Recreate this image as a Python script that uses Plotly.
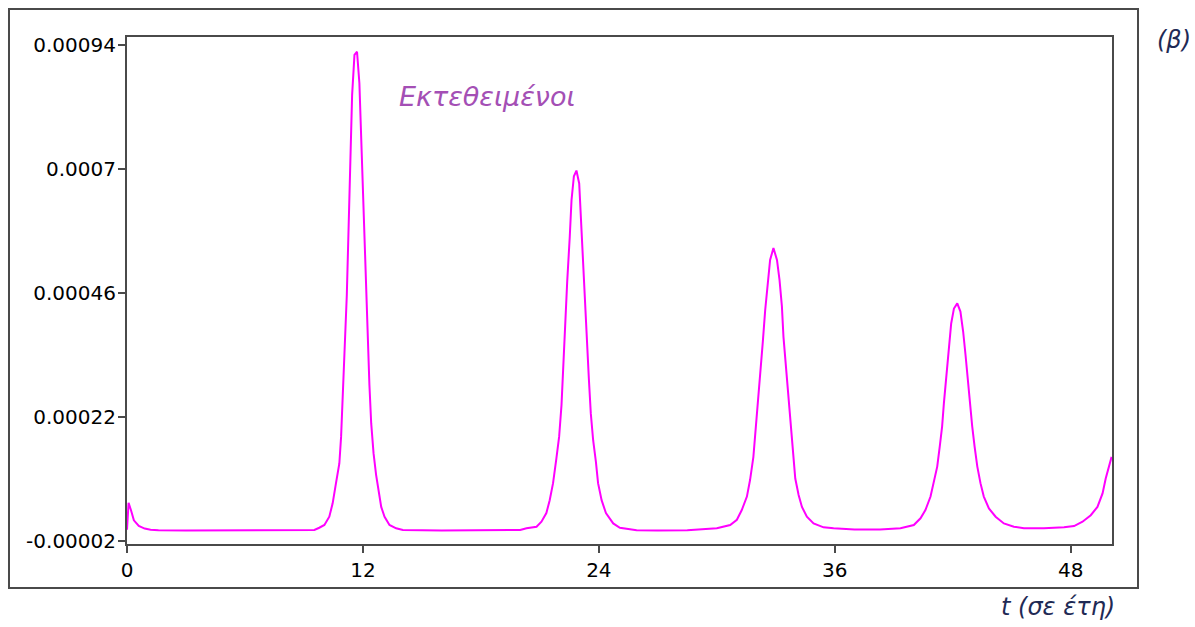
import plotly.graph_objects as go

# Εκτεθειμένοι (exposed) vs time
t_years = [0.0, 0.08, 0.2, 0.35, 0.6, 0.9, 1.2, 1.6, 3.0, 6.0, 9.0,
           9.53, 9.78, 10.04, 10.29, 10.46, 10.63, 10.80, 10.89, 10.97, 11.06,
           11.18, 11.28, 11.36, 11.45, 11.57, 11.70, 11.82, 11.91, 12.03, 12.13,
           12.25, 12.33, 12.42, 12.54, 12.67, 12.81, 12.93, 13.10, 13.35, 13.69,
           14.03, 16.0, 18.0, 20.0,
           20.32, 20.83, 21.08, 21.33, 21.50, 21.67, 21.84, 21.98, 22.10, 22.18,
           22.27, 22.39, 22.52, 22.61, 22.73, 22.86, 23.00, 23.07, 23.17, 23.29,
           23.37, 23.49, 23.59, 23.71, 23.85, 23.96, 24.14, 24.36, 24.73, 25.07,
           25.58, 25.92, 27.0, 28.5, 30.0,
           30.68, 31.02, 31.27, 31.53, 31.69, 31.86, 31.98, 32.09, 32.20, 32.34,
           32.46, 32.58, 32.71, 32.88, 33.06, 33.19, 33.31, 33.39, 33.51, 33.65,
           33.77, 33.87, 33.99, 34.16, 34.33, 34.58, 34.92, 35.43, 35.94, 37.0,
           38.3, 39.34,
           40.02, 40.36, 40.61, 40.87, 41.04, 41.21, 41.34, 41.46, 41.55, 41.67,
           41.80, 41.92, 42.06, 42.23, 42.39, 42.53, 42.65, 42.77, 42.87, 42.99,
           43.11, 43.25, 43.41, 43.58, 43.84, 44.18, 44.60, 45.11, 45.62, 46.64,
           47.66, 48.17, 48.60, 49.02, 49.36, 49.62, 49.78, 49.95, 50.08]

exposed = [0.000002, 0.000054, 0.000040, 0.000020, 0.000009, 0.000004, 0.0000018, 0.0000008, 0.0000004, 0.0000003, 0.0000003,
           0.0000013, 0.0000057, 0.000011, 0.000027, 0.000053, 0.000092, 0.000130, 0.000182, 0.000247, 0.000343,
           0.000456, 0.000595, 0.000727, 0.000843, 0.000921, 0.000927, 0.000866, 0.000756, 0.000627, 0.000495,
           0.000379, 0.000282, 0.000208, 0.000150, 0.000108, 0.000075, 0.000046, 0.000027, 0.000011, 0.0000046,
           0.0000013, 0.0000005, 0.0000005, 0.0000012,
           0.0000046, 0.0000077, 0.0000174, 0.000034, 0.000059, 0.000092, 0.000140, 0.000182, 0.000243, 0.000311,
           0.000395, 0.000482, 0.000569, 0.000640, 0.000686, 0.000697, 0.000672, 0.000617, 0.000543, 0.000456,
           0.000369, 0.000295, 0.000227, 0.000175, 0.000133, 0.000092, 0.000059, 0.000034, 0.000014, 0.0000057,
           0.0000026, 0.0000007, 0.0000004, 0.0000006, 0.0000046,
           0.000011, 0.000021, 0.000040, 0.000066, 0.000098, 0.000143, 0.000195, 0.000247, 0.000305, 0.000366,
           0.000427, 0.000479, 0.000524, 0.000547, 0.000524, 0.000485, 0.000434, 0.000375, 0.000317, 0.000253,
           0.000195, 0.000143, 0.000101, 0.000069, 0.000046, 0.000027, 0.000014, 0.0000065, 0.0000046, 0.0000025,
           0.0000025, 0.0000046,
           0.000011, 0.000024, 0.000040, 0.000066, 0.000092, 0.000124, 0.000163, 0.000202, 0.000247, 0.000298,
           0.000346, 0.000401, 0.000430, 0.000440, 0.000424, 0.000385, 0.000340, 0.000292, 0.000243, 0.000202,
           0.000163, 0.000124, 0.000092, 0.000066, 0.000043, 0.000027, 0.000014, 0.0000077, 0.0000046, 0.0000046,
           0.0000065, 0.0000090, 0.0000174, 0.000030, 0.000046, 0.000072, 0.000101, 0.000127, 0.000143]

x_ticks = [0, 12, 24, 36, 48]
y_ticks = [-0.00002, 0.00022, 0.00046, 0.0007, 0.00094]
y_tick_labels = ["-0.00002", "0.00022", "0.00046", "0.0007", "0.00094"]

AXIS = "#4a4a4a"
NAVY = "#1f2a55"

fig = go.Figure()
fig.add_trace(go.Scatter(
    x=t_years, y=exposed, mode="lines",
    line=dict(color="#ff00ff", width=2),
    showlegend=False, hoverinfo="skip",
))

fig.update_layout(
    width=1195, height=627,
    paper_bgcolor="white", plot_bgcolor="white",
    margin=dict(l=127, r=83, t=37, b=83),
    font=dict(family="DejaVu Sans", size=20, color="black"),
    xaxis=dict(
        range=[0, 50.1], tickvals=x_ticks, ticktext=[str(v) for v in x_ticks],
        showgrid=False, zeroline=False,
        showline=True, linecolor=AXIS, linewidth=2, mirror=True,
        ticks="outside", ticklen=7, tickcolor=AXIS, tickwidth=2,
    ),
    yaxis=dict(
        range=[-0.0000258, 0.0009555], tickvals=y_ticks, ticktext=y_tick_labels,
        showgrid=False, zeroline=False,
        showline=True, linecolor=AXIS, linewidth=2, mirror=True,
        ticks="outside", ticklen=7, tickcolor=AXIS, tickwidth=2,
        ticklabelstandoff=-2,
    ),
)

# outer frame around whole chart
fig.add_shape(type="rect", xref="paper", yref="paper",
              x0=-0.1198, x1=1.0264, y0=-0.0868, y1=1.0552,
              line=dict(color=AXIS, width=2), fillcolor="rgba(0,0,0,0)")

fig.add_annotation(text="<i>Εκτεθειμένοι</i>", xref="paper", yref="paper",
                   x=0.274, y=0.8817, xanchor="left", yanchor="middle", showarrow=False,
                   font=dict(family="DejaVu Sans", size=27, color="#a44fb5"))
fig.add_annotation(text="<i>t (σε έτη)</i>", xref="paper", yref="paper",
                   x=1.005, y=-0.1243, xanchor="right", yanchor="middle", showarrow=False,
                   font=dict(family="DejaVu Sans", size=24, color=NAVY))
fig.add_annotation(text="<i>(β)</i>", xref="paper", yref="paper",
                   x=1.0437, y=0.994, xanchor="left", yanchor="middle", showarrow=False,
                   font=dict(family="DejaVu Sans", size=24, color=NAVY))

# drop the browser's default 8px body margin so the figure sits at the corner
fig.write_html("out.html", config={"displayModeBar": False},
               post_script="document.body.style.margin='0';document.body.style.overflow='hidden';")
